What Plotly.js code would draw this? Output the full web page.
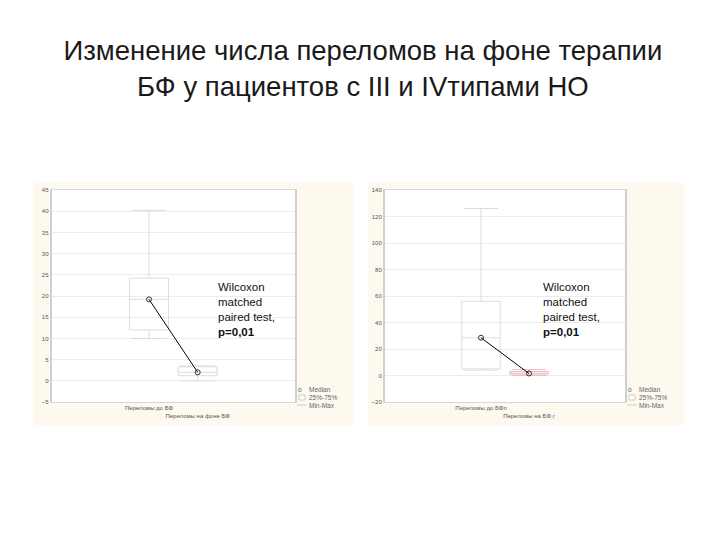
<!DOCTYPE html>
<html><head><meta charset="utf-8">
<script src="https://cdn.plot.ly/plotly-3.0.1.min.js"></script>
<style>html,body{margin:0;padding:0;background:#fff}#chart{width:720px;height:540px}</style>
</head><body><div id="chart"></div>
<script>
// Left chart: fractures before / on bisphosphonates (boxes: min, Q1, median, Q3, max)
const leftCategories = [0, 1];
const leftTickLabels = ["Переломы до БФ", "<br>Переломы на фоне БФ"];
const leftMin = [10, 0];
const leftQ1 = [12, 1.2];
const leftMedian = [19.2, 2];
const leftQ3 = [24.2, 3.3];
const leftMax = [40.2, 3.5];
const leftTicks = [-5, 0, 5, 10, 15, 20, 25, 30, 35, 40, 45];

// Right chart
const rightCategories = [0, 1];
const rightTickLabels = ["Переломы до БФп", "<br>Переломы на БФ,г"];
const rightMin = [4, 0];
const rightQ1 = [5, 1];
const rightMedian = [28.5, 1.5];
const rightQ3 = [56, 3];
const rightMax = [126, 4.5];
const rightTicks = [-20, 0, 20, 40, 60, 80, 100, 120, 140];

const note = "Wilcoxon<br>matched<br>paired test,<br><b>p=0,01</b>";

const boxGray = '#dcdcdc';
const pink = '#f0bcc4';

function boxTrace(xa, ya, xs, mn, q1, md, q3, mx, color) {
  return {type: 'box', xaxis: xa, yaxis: ya, x: xs, lowerfence: mn, q1: q1, median: md, q3: q3, upperfence: mx,
    width: 0.8, whiskerwidth: 0.9, fillcolor: 'rgba(255,255,255,0)', line: {color: color, width: 1},
    showlegend: false, hoverinfo: 'skip', boxpoints: false};
}
function medTrace(xa, ya, xs, md) {
  return {type: 'scatter', mode: 'lines+markers', xaxis: xa, yaxis: ya, x: xs, y: md,
    line: {color: '#000', width: 1}, marker: {symbol: 'circle-open', size: 5, color: '#333', line: {width: 1}},
    showlegend: false, hoverinfo: 'skip'};
}

const data = [
  boxTrace('x', 'y', leftCategories, leftMin, leftQ1, leftMedian, leftQ3, leftMax, boxGray),
  medTrace('x', 'y', leftCategories, leftMedian),
  boxTrace('x2', 'y2', [rightCategories[0]], [rightMin[0]], [rightQ1[0]], [rightMedian[0]], [rightQ3[0]], [rightMax[0]], boxGray),
  boxTrace('x2', 'y2', [rightCategories[1]], [rightMin[1]], [rightQ1[1]], [rightMedian[1]], [rightQ3[1]], [rightMax[1]], pink),
  medTrace('x2', 'y2', rightCategories, rightMedian)
];

const tickFont = {family: 'Liberation Sans, Arial, sans-serif', size: 6, color: '#555'};
function xAxis(domain, labels, anchor) {
  return {domain: domain, anchor: anchor, range: [-2, 3], tickvals: [0, 1], ticktext: labels, tickangle: 0, showgrid: false,
    zeroline: false, showline: true, linecolor: '#d8d8d8', mirror: true, ticks: '', tickfont: tickFont, fixedrange: true};
}
function yAxis(domain, ticks, range, anchor) {
  return {domain: domain, anchor: anchor, range: range, tickvals: ticks, showgrid: true, gridcolor: '#ececec',
    zeroline: false, showline: true, linecolor: '#d0d0d0', linewidth: 2, mirror: true, ticks: '', tickfont: tickFont};
}
const yDom = [1 - 402 / 540, 1 - 190 / 540];
const legFont = {family: 'Liberation Sans, Arial, sans-serif', size: 6.5, color: '#666'};

function legend(x0) {
  const items = [['o', 'Median', 389], ['', '25%-75%', 397], ['', 'Min-Max', 405]];
  const out = [];
  items.forEach(it => {
    out.push({xref: 'paper', yref: 'paper', x: (x0 + 10) / 720, y: 1 - it[2] / 540, xanchor: 'left', yanchor: 'middle',
      text: it[1], showarrow: false, font: legFont});
  });
  out.push({xref: 'paper', yref: 'paper', x: (x0 + 3) / 720, y: 1 - 389 / 540, xanchor: 'center', yanchor: 'middle',
    text: 'o', showarrow: false, font: legFont});
  return out;
}

const layout = {
  width: 720, height: 540, margin: {l: 0, r: 0, t: 0, b: 0},
  paper_bgcolor: '#fff', plot_bgcolor: 'rgba(0,0,0,0)', showlegend: false,
  title: {text: 'Изменение числа переломов на фоне терапии<br>БФ у пациентов с III и IVтипами НО',
    x: 0.504, xanchor: 'center', y: 1 - 60 / 540, yanchor: 'top', yref: 'paper',
    font: {family: 'Liberation Sans, Arial, sans-serif', size: 27.5, color: '#1a1a1a'}},
  xaxis: xAxis([51.7 / 720, 295 / 720], leftTickLabels, 'y'),
  yaxis: yAxis(yDom, leftTicks, [-5, 45], 'x'),
  xaxis2: xAxis([385 / 720, 625 / 720], rightTickLabels, 'y2'),
  yaxis2: yAxis(yDom, rightTicks, [-20, 140], 'x2'),
  shapes: [
    {type: 'rect', xref: 'paper', yref: 'paper', x0: 33 / 720, x1: 354 / 720, y0: 1 - 425 / 540, y1: 1 - 183 / 540,
      fillcolor: '#fdf9ee', line: {width: 0}, layer: 'below'},
    {type: 'rect', xref: 'paper', yref: 'paper', x0: 368 / 720, x1: 684 / 720, y0: 1 - 425 / 540, y1: 1 - 183 / 540,
      fillcolor: '#fdf9ee', line: {width: 0}, layer: 'below'},
    {type: 'rect', xref: 'x domain', yref: 'y domain', x0: 0, x1: 1, y0: 0, y1: 1, fillcolor: '#fff', line: {width: 0}, layer: 'below'},
    {type: 'rect', xref: 'x2 domain', yref: 'y2 domain', x0: 0, x1: 1, y0: 0, y1: 1, fillcolor: '#fff', line: {width: 0}, layer: 'below'},
    // legend glyphs
    {type: 'rect', xref: 'paper', yref: 'paper', x0: 299 / 720, x1: 305 / 720, y0: 1 - 400 / 540, y1: 1 - 395 / 540, fillcolor: '#fff', line: {color: '#ccc', width: 1}},
    {type: 'line', xref: 'paper', yref: 'paper', x0: 297 / 720, x1: 307 / 720, y0: 1 - 405 / 540, y1: 1 - 405 / 540, line: {color: '#ccc', width: 1}},
    {type: 'rect', xref: 'paper', yref: 'paper', x0: 629 / 720, x1: 635 / 720, y0: 1 - 400 / 540, y1: 1 - 395 / 540, fillcolor: '#fff', line: {color: '#ccc', width: 1}},
    {type: 'line', xref: 'paper', yref: 'paper', x0: 627 / 720, x1: 637 / 720, y0: 1 - 405 / 540, y1: 1 - 405 / 540, line: {color: '#ccc', width: 1}}
  ],
  annotations: [
    {xref: 'paper', yref: 'paper', x: 216 / 720, y: 1 - 279 / 540, xanchor: 'left', yanchor: 'top', align: 'left',
      text: note, showarrow: false, font: {family: 'Liberation Sans, Arial, sans-serif', size: 11.5, color: '#111'}},
    {xref: 'paper', yref: 'paper', x: 541 / 720, y: 1 - 279 / 540, xanchor: 'left', yanchor: 'top', align: 'left',
      text: note, showarrow: false, font: {family: 'Liberation Sans, Arial, sans-serif', size: 11.5, color: '#111'}}
  ].concat(legend(297)).concat(legend(627))
};

Plotly.newPlot('chart', data, layout, {displayModeBar: false, staticPlot: true});
</script>
</body></html>
